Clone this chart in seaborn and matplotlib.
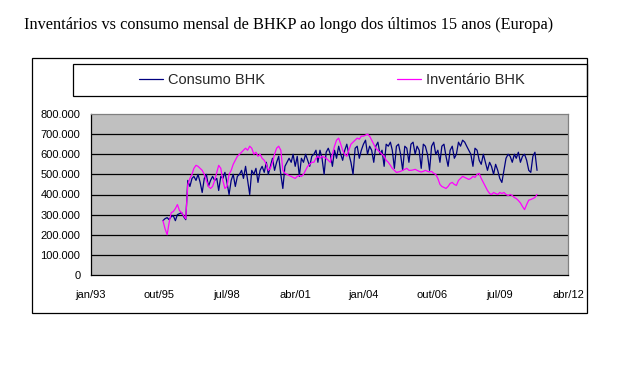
import pandas as pd
import seaborn as sns
import matplotlib.pyplot as plt
from matplotlib.lines import Line2D
from matplotlib.patches import Rectangle
from matplotlib.ticker import FuncFormatter

title = 'Inventários vs consumo mensal de BHKP ao longo dos últimos 15 anos (Europa)'
first_month = '1995-12-01'

# monthly values, thousands of tonnes (Dec/95 .. Jan/11)
consumo = [
    270,
    280, 285, 275, 290, 295, 270, 300, 305, 310, 290, 275, 470,  # 1996
    440, 480, 490, 470, 500, 460, 410, 480, 500, 440, 470, 490,  # 1997
    470, 480, 420, 490, 480, 510, 460, 400, 470, 500, 440, 490,  # 1998
    500, 520, 480, 540, 470, 400, 520, 500, 530, 460, 520, 540,  # 1999
    510, 560, 500, 540, 580, 520, 560, 590, 500, 430, 540, 560,  # 2000
    580, 560, 600, 540, 590, 490, 580, 560, 600, 570, 540, 590,  # 2001
    600, 620, 560, 620, 580, 500, 610, 630, 600, 540, 620, 580,  # 2002
    640, 600, 570, 620, 650, 600, 560, 500, 630, 640, 580, 620,  # 2003
    650, 670, 600, 640, 620, 560, 640, 660, 600, 620, 540, 650,  # 2004
    640, 660, 620, 530, 640, 650, 600, 520, 640, 630, 560, 650,  # 2005
    660, 600, 640, 620, 530, 650, 640, 600, 520, 640, 660, 600,  # 2006
    620, 560, 640, 650, 590, 540, 620, 640, 580, 600, 660, 640,  # 2007
    670, 660, 640, 620, 600, 540, 630, 620, 570, 550, 600, 560,  # 2008
    520, 560, 540, 500, 550, 520, 480, 460, 520, 580, 600, 590,  # 2009
    560, 600, 580, 610, 560, 590, 600, 570, 520, 510, 590, 610,  # 2010
    520,
]
inventario = [
    270,
    230, 200, 260, 310, 315, 330, 350, 320, 310, 295, 280, 450,  # 1996
    480, 500, 530, 545, 540, 530, 520, 500, 470, 440, 430, 440,  # 1997
    470, 510, 545, 530, 470, 430, 440, 500, 520, 550, 570, 590,  # 1998
    600, 610, 620, 630, 620, 640, 630, 600, 610, 590, 600, 580,  # 1999
    570, 550, 520, 530, 560, 600, 630, 640, 620, 520, 505, 500,  # 2000
    495, 490, 485, 480, 490, 495, 490, 500, 520, 540, 550, 560,  # 2001
    560, 580, 590, 580, 590, 585, 580, 570, 560, 600, 640, 670,  # 2002
    680, 650, 620, 600, 590, 620, 650, 660, 670, 680, 675, 690,  # 2003
    690, 695, 700, 690, 670, 650, 630, 620, 610, 600, 590, 570,  # 2004
    560, 545, 530, 520, 510, 512, 515, 520, 525, 530, 520, 520,  # 2005
    522, 525, 520, 515, 512, 515, 520, 515, 512, 515, 505, 500,  # 2006
    480, 450, 440, 435, 430, 440, 455, 460, 450, 445, 470, 480,  # 2007
    490, 485, 480, 475, 480, 490, 485, 500, 505, 480, 460, 440,  # 2008
    420, 405, 400, 410, 405, 400, 410, 405, 410, 400, 395, 400,  # 2009
    395, 385, 380, 370, 358, 340, 325, 350, 372, 375, 380, 385,  # 2010
    400,
]

series_names = ['Consumo BHK', 'Inventário BHK']
colors = {'Consumo BHK': '#000080', 'Inventário BHK': '#FF00FF'}

tick_dates = ['1993-01-01', '1995-10-01', '1998-07-01', '2001-04-01',
              '2004-01-01', '2006-10-01', '2009-07-01', '2012-04-01']
tick_labels = ['jan/93', 'out/95', 'jul/98', 'abr/01', 'jan/04', 'out/06', 'jul/09', 'abr/12']
y_ticks = list(range(0, 800001, 100000))

dates = pd.date_range(first_month, periods=len(consumo), freq='MS')
df = pd.DataFrame({
    'data': list(dates) * 2,
    'valor': [v * 1000 for v in consumo + inventario],
    'serie': [series_names[0]] * len(consumo) + [series_names[1]] * len(inventario),
})

sns.set_style('white')
plt.rcParams['font.family'] = ['Liberation Sans', 'DejaVu Sans']

W, H = 636, 371
fig = plt.figure(figsize=(W / 100, H / 100), dpi=100)
ax = fig.add_axes([90.7 / W, 1 - 275 / H, (568 - 90.7) / W, (275 - 114) / H])
ax.set_facecolor('#C0C0C0')

# gridlines (inner only, top edge is the gray border)
for y in y_ticks[1:-1]:
    ax.axhline(y, color='black', linewidth=0.9, zorder=1)

sns.lineplot(data=df, x='data', y='valor', hue='serie', palette=colors,
             linewidth=0.9, ax=ax, legend=False, zorder=3)

ax.set_xlim(pd.Timestamp(tick_dates[0]), pd.Timestamp(tick_dates[-1]))
ax.set_ylim(0, 800000)
ax.set_yticks(y_ticks)
ax.yaxis.set_major_formatter(FuncFormatter(lambda v, p: f'{int(v):,}'.replace(',', '.')))
ax.set_xticks(pd.to_datetime(tick_dates))
ax.set_xticklabels(tick_labels)
ax.set_xlabel('')
ax.set_ylabel('')

ax.tick_params(axis='both', direction='out', length=3, width=0.8, color='black',
               labelsize=8, labelcolor='black')
ax.tick_params(axis='y', pad=4.5)
ax.tick_params(axis='x', pad=7.5)
for side in ['left', 'bottom']:
    ax.spines[side].set_color('black')
    ax.spines[side].set_linewidth(0.9)
for side in ['top', 'right']:
    ax.spines[side].set_color('#808080')
    ax.spines[side].set_linewidth(0.9)

# chart frame and legend box
fig.patches.append(Rectangle((32 / W, 1 - 313 / H), (587 - 32) / W, (313 - 58) / H,
                             transform=fig.transFigure, fill=False, edgecolor='black', linewidth=0.9))
fig.patches.append(Rectangle((73 / W, 1 - 96 / H), (587 - 73) / W, (96 - 64) / H,
                             transform=fig.transFigure, fill=False, edgecolor='black', linewidth=0.9))

handles = [Line2D([], [], color=colors[n], linewidth=0.9) for n in series_names]
fig.legend(handles, series_names, loc='center', bbox_to_anchor=(332 / W, 1 - 80 / H),
           ncol=2, frameon=False, fontsize=10.5, handlelength=1.64,
           handletextpad=0.35, columnspacing=9.1)

fig.text(24 / W, 1 - 25 / H, title, family='Liberation Serif', fontsize=11.7,
         va='center', ha='left', color='black')

fig.savefig('out.png', dpi=100)
plt.close()
